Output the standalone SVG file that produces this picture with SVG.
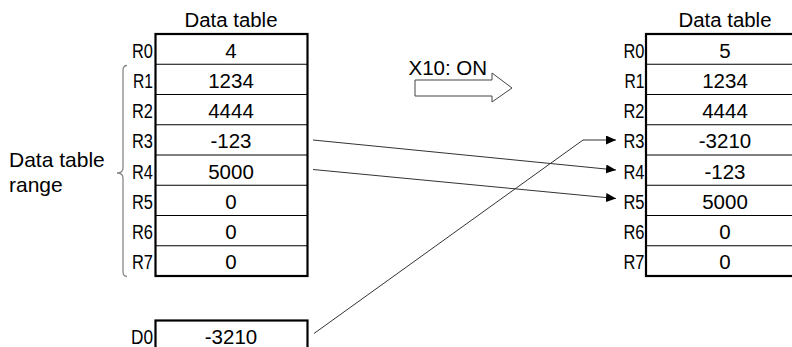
<svg xmlns="http://www.w3.org/2000/svg" width="792" height="347" viewBox="0 0 792 347">
<defs>
<style>
text{font-family:"Liberation Sans",Arial,sans-serif;fill:#000}
.t{font-size:20px;text-anchor:middle}
.l{font-size:20.5px;text-anchor:end}
.v{font-size:20.5px;text-anchor:middle}
.box{fill:#fff;stroke:#000;stroke-width:2.2}
.row{stroke:#000;stroke-width:1.2}
.c{fill:none;stroke:#333;stroke-width:1}
</style>
<marker id="ah" viewBox="0 0 10 9" refX="10" refY="4.5" markerWidth="10" markerHeight="9" markerUnits="userSpaceOnUse" orient="auto">
<path d="M0,0 L10,4.5 L0,9 Z" fill="#000"/>
</marker>
</defs>
<rect width="792" height="347" fill="#fff"/>

<g id="left-table">
<text class="t" x="231" y="27" textLength="93" lengthAdjust="spacingAndGlyphs">Data table</text>
<rect class="box" x="155.5" y="34" width="152" height="242"/>
<line class="row" x1="155.5" y1="64.25" x2="307.5" y2="64.25"/>
<line class="row" x1="155.5" y1="94.5" x2="307.5" y2="94.5"/>
<line class="row" x1="155.5" y1="124.75" x2="307.5" y2="124.75"/>
<line class="row" x1="155.5" y1="155" x2="307.5" y2="155"/>
<line class="row" x1="155.5" y1="185.25" x2="307.5" y2="185.25"/>
<line class="row" x1="155.5" y1="215.5" x2="307.5" y2="215.5"/>
<line class="row" x1="155.5" y1="245.75" x2="307.5" y2="245.75"/>
<text class="l" x="153" y="57.5" textLength="21" lengthAdjust="spacingAndGlyphs">R0</text>
<text class="l" x="153" y="87.75" textLength="20" lengthAdjust="spacingAndGlyphs">R1</text>
<text class="l" x="153" y="118" textLength="21" lengthAdjust="spacingAndGlyphs">R2</text>
<text class="l" x="153" y="148.25" textLength="21" lengthAdjust="spacingAndGlyphs">R3</text>
<text class="l" x="153" y="178.5" textLength="21" lengthAdjust="spacingAndGlyphs">R4</text>
<text class="l" x="153" y="208.75" textLength="21" lengthAdjust="spacingAndGlyphs">R5</text>
<text class="l" x="153" y="239" textLength="21" lengthAdjust="spacingAndGlyphs">R6</text>
<text class="l" x="153" y="269.25" textLength="21" lengthAdjust="spacingAndGlyphs">R7</text>
<text class="v" x="231" y="57.5">4</text>
<text class="v" x="231" y="87.75">1234</text>
<text class="v" x="231" y="118">4444</text>
<text class="v" x="231" y="148.25">-123</text>
<text class="v" x="231" y="178.5">5000</text>
<text class="v" x="231" y="208.75">0</text>
<text class="v" x="231" y="239">0</text>
<text class="v" x="231" y="269.25">0</text>
</g>

<g id="range-label">
<path d="M127,65.5 Q123,65.5 123,70.5 L123,168 Q123,173 117,173 Q123,173 123,178 L123,271.5 Q123,276.5 127,276.5" fill="none" stroke="#888" stroke-width="1.3"/>
<text x="9" y="166.7" style="font-size:21px">Data table</text>
<text x="9" y="191.7" style="font-size:21px">range</text>
</g>

<g id="d0">
<rect class="box" x="155.5" y="320.5" width="152" height="30"/>
<text class="l" x="153" y="344" textLength="22" lengthAdjust="spacingAndGlyphs">D0</text>
<text class="v" x="231" y="344">-3210</text>
</g>

<g id="trigger">
<text x="408.5" y="74.5" style="font-size:20.5px">X10: ON</text>
<polygon points="415,80 492,80 492,73 512,88 492,102 492,96 415,96" fill="#fff" stroke="#444" stroke-width="1"/>
</g>

<g id="right-table">
<text class="t" x="725" y="27" textLength="93" lengthAdjust="spacingAndGlyphs">Data table</text>
<rect class="box" x="646" y="34" width="158" height="242"/>
<line class="row" x1="646" y1="64.25" x2="804" y2="64.25"/>
<line class="row" x1="646" y1="94.5" x2="804" y2="94.5"/>
<line class="row" x1="646" y1="124.75" x2="804" y2="124.75"/>
<line class="row" x1="646" y1="155" x2="804" y2="155"/>
<line class="row" x1="646" y1="185.25" x2="804" y2="185.25"/>
<line class="row" x1="646" y1="215.5" x2="804" y2="215.5"/>
<line class="row" x1="646" y1="245.75" x2="804" y2="245.75"/>
<text class="l" x="644.5" y="57.5" textLength="21" lengthAdjust="spacingAndGlyphs">R0</text>
<text class="l" x="644.5" y="87.75" textLength="20" lengthAdjust="spacingAndGlyphs">R1</text>
<text class="l" x="644.5" y="118" textLength="21" lengthAdjust="spacingAndGlyphs">R2</text>
<text class="l" x="644.5" y="148.25" textLength="21" lengthAdjust="spacingAndGlyphs">R3</text>
<text class="l" x="644.5" y="178.5" textLength="21" lengthAdjust="spacingAndGlyphs">R4</text>
<text class="l" x="644.5" y="208.75" textLength="21" lengthAdjust="spacingAndGlyphs">R5</text>
<text class="l" x="644.5" y="239" textLength="21" lengthAdjust="spacingAndGlyphs">R6</text>
<text class="l" x="644.5" y="269.25" textLength="21" lengthAdjust="spacingAndGlyphs">R7</text>
<text class="v" x="725" y="57.5">5</text>
<text class="v" x="725" y="87.75">1234</text>
<text class="v" x="725" y="118">4444</text>
<text class="v" x="725" y="148.25">-3210</text>
<text class="v" x="725" y="178.5">-123</text>
<text class="v" x="725" y="208.75">5000</text>
<text class="v" x="725" y="239">0</text>
<text class="v" x="725" y="269.25">0</text>
</g>

<g id="connectors">
<line class="c" x1="313" y1="140" x2="616" y2="170" marker-end="url(#ah)"/>
<line class="c" x1="313" y1="169.5" x2="616" y2="198.5" marker-end="url(#ah)"/>
<polyline class="c" points="314,333.5 583,140 616,140" marker-end="url(#ah)"/>
</g>
</svg>
